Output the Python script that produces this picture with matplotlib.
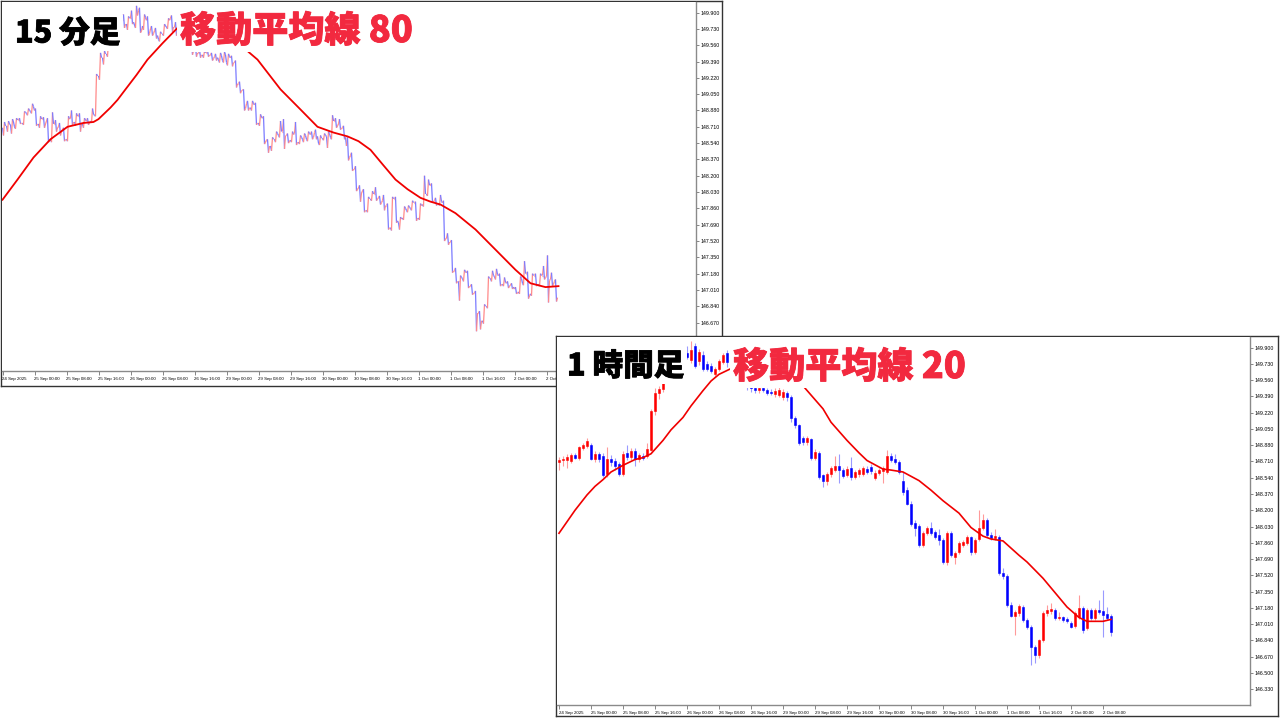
import matplotlib
matplotlib.use('Agg')
import matplotlib.pyplot as plt
import matplotlib.patheffects as pe
import numpy as np
from matplotlib.collections import LineCollection

# USD/JPY 1h candles, 24 Sep 16:00 -> 2 Oct 10:00
opens = [148.70, 148.72, 148.73, 148.71, 148.78, 148.75, 148.85, 148.87, 148.88, 148.74,
         148.79, 148.77, 148.58, 148.74, 148.71, 148.68, 148.58, 148.80, 148.76, 148.82,
         148.74, 148.77, 148.77, 148.83, 149.24, 149.43, 149.47, 149.58, 149.70, 149.74,
         149.82, 149.78, 149.84, 149.77, 149.92, 149.76, 149.82, 149.73, 149.71, 149.62,
         149.68, 149.75, 149.84, 149.75, 149.70, 149.64, 149.58, 149.55, 149.50, 149.48,
         149.46, 149.48, 149.46, 149.44, 149.41, 149.40, 149.38, 149.43, 149.38, 149.16,
         149.09, 148.95, 148.91, 148.94, 148.75, 148.80, 148.57, 148.51, 148.58, 148.62,
         148.66, 148.62, 148.57, 148.64, 148.55, 148.58, 148.58, 148.63, 148.65, 148.54,
         148.59, 148.61, 148.60, 148.77, 148.74, 148.70, 148.51, 148.41, 148.27, 148.07,
         148.04, 147.84, 147.96, 148.01, 147.97, 147.94, 147.89, 147.66, 147.96, 147.71,
         147.76, 147.84, 147.86, 147.92, 147.76, 147.90, 148.01, 148.10, 147.94, 147.91,
         147.92, 147.55, 147.51, 147.21, 147.10, 147.13, 147.19, 147.05, 146.98, 146.77,
         146.69, 146.84, 147.13, 147.15, 147.16, 147.07, 147.08, 147.06, 147.02, 146.99,
         147.08, 147.18, 146.97, 147.16, 147.07, 147.16, 147.15, 147.12, 147.10]
highs = [148.76, 148.77, 148.79, 148.80, 148.80, 148.87, 148.90, 148.95, 148.90, 148.82,
         148.81, 148.80, 148.86, 148.78, 148.75, 148.70, 148.82, 148.88, 148.85, 148.85,
         148.80, 148.80, 148.90, 149.26, 149.48, 149.50, 149.60, 149.72, 149.78, 149.85,
         149.88, 149.86, 149.92, 149.97, 149.95, 149.88, 149.86, 149.76, 149.74, 149.70,
         149.78, 149.84, 149.87, 149.80, 149.74, 149.68, 149.62, 149.58, 149.54, 149.52,
         149.50, 149.51, 149.48, 149.47, 149.48, 149.49, 149.47, 149.45, 149.40, 149.18,
         149.10, 148.98, 148.98, 148.96, 148.84, 148.82, 148.58, 148.60, 148.66, 148.77,
         148.79, 148.64, 148.66, 148.76, 148.62, 148.64, 148.66, 148.66, 148.68, 148.62,
         148.64, 148.66, 148.83, 148.80, 148.79, 148.72, 148.60, 148.44, 148.30, 148.10,
         148.06, 147.98, 148.04, 148.08, 147.99, 148.00, 147.91, 147.98, 147.98, 147.77,
         147.88, 147.89, 147.94, 147.93, 147.91, 148.20, 148.16, 148.12, 147.97, 148.00,
         147.94, 147.60, 147.53, 147.24, 147.16, 147.22, 147.21, 147.07, 147.00, 146.79,
         146.86, 147.15, 147.21, 147.23, 147.18, 147.14, 147.10, 147.08, 147.04, 147.15,
         147.31, 147.20, 147.18, 147.18, 147.18, 147.26, 147.37, 147.19, 147.12]
lows = [148.62, 148.66, 148.64, 148.69, 148.74, 148.73, 148.83, 148.85, 148.72, 148.70,
        148.70, 148.55, 148.55, 148.66, 148.62, 148.56, 148.56, 148.72, 148.72, 148.66,
        148.70, 148.73, 148.75, 148.82, 149.20, 149.36, 149.44, 149.55, 149.64, 149.70,
        149.74, 149.72, 149.78, 149.74, 149.69, 149.72, 149.66, 149.66, 149.63, 149.60,
        149.66, 149.73, 149.70, 149.66, 149.60, 149.54, 149.50, 149.46, 149.44, 149.43,
        149.43, 149.44, 149.40, 149.40, 149.38, 149.38, 149.35, 149.34, 149.12, 149.06,
        148.88, 148.88, 148.88, 148.73, 148.72, 148.53, 148.44, 148.46, 148.55, 148.60,
        148.48, 148.54, 148.55, 148.52, 148.53, 148.55, 148.56, 148.58, 148.58, 148.52,
        148.57, 148.49, 148.58, 148.70, 148.68, 148.58, 148.36, 148.25, 148.04, 147.93,
        147.82, 147.82, 147.94, 147.94, 147.90, 147.84, 147.64, 147.63, 147.71, 147.64,
        147.74, 147.82, 147.84, 147.73, 147.74, 147.88, 147.99, 147.92, 147.89, 147.89,
        147.52, 147.48, 147.19, 147.08, 146.90, 147.10, 147.03, 146.96, 146.58, 146.60,
        146.66, 146.82, 147.10, 147.12, 147.05, 147.05, 147.03, 147.02, 146.97, 146.97,
        147.06, 146.92, 146.95, 147.05, 147.05, 147.12, 146.88, 147.05, 146.89]
closes = [148.72, 148.74, 148.76, 148.78, 148.75, 148.86, 148.88, 148.92, 148.74, 148.79,
          148.74, 148.57, 148.74, 148.70, 148.66, 148.58, 148.79, 148.76, 148.82, 148.74,
          148.78, 148.75, 148.84, 149.24, 149.43, 149.47, 149.58, 149.70, 149.74, 149.82,
          149.78, 149.84, 149.80, 149.87, 149.71, 149.85, 149.68, 149.68, 149.66, 149.68,
          149.76, 149.82, 149.75, 149.70, 149.64, 149.58, 149.55, 149.50, 149.48, 149.46,
          149.48, 149.46, 149.42, 149.43, 149.45, 149.46, 149.44, 149.38, 149.16, 149.09,
          148.90, 148.91, 148.95, 148.75, 148.81, 148.55, 148.51, 148.58, 148.64, 148.66,
          148.62, 148.56, 148.63, 148.55, 148.60, 148.62, 148.64, 148.60, 148.61, 148.59,
          148.62, 148.64, 148.77, 148.72, 148.70, 148.60, 148.39, 148.27, 148.06, 148.02,
          147.84, 147.96, 148.01, 147.96, 147.92, 147.89, 147.66, 147.96, 147.73, 147.75,
          147.86, 147.87, 147.92, 147.76, 147.89, 148.01, 148.10, 147.94, 147.91, 147.93,
          147.54, 147.51, 147.21, 147.10, 147.14, 147.20, 147.05, 146.98, 146.77, 146.69,
          146.84, 147.13, 147.16, 147.17, 147.07, 147.09, 147.05, 147.04, 146.98, 147.13,
          147.18, 146.95, 147.16, 147.07, 147.16, 147.14, 147.11, 147.07, 146.93]

# moving averages as drawn by the terminal
ma20_idx = [0, 2, 4, 7, 9, 11, 13, 16, 19, 21, 23, 26, 28, 31, 33, 36, 38, 40, 44, 48,
            52, 55, 59, 61, 66, 68, 72, 75, 77, 81, 83, 86, 90, 93, 96, 100, 103, 106,
            108, 111, 115, 117, 121, 124, 127, 130, 132, 134, 136, 138]
ma20_val = [147.96, 148.08, 148.20, 148.36, 148.45, 148.52, 148.60, 148.67, 148.73, 148.75,
            148.79, 148.93, 149.04, 149.17, 149.29, 149.45, 149.55, 149.62, 149.70, 149.74,
            149.73, 149.69, 149.59, 149.50, 149.26, 149.12, 148.93, 148.80, 148.72, 148.63,
            148.62, 148.60, 148.51, 148.41, 148.30, 148.17, 148.02, 147.93, 147.90, 147.88,
            147.73, 147.66, 147.49, 147.34, 147.19, 147.08, 147.04, 147.04, 147.04, 147.06]
ma80_bar = [0, 15, 31, 48, 65, 81, 86, 91, 96, 101, 108, 115, 123, 134, 145, 160, 175,
            200, 224, 246, 255, 278, 298, 315, 323, 331, 338, 345, 356, 368, 380, 393,
            405, 418, 428, 438, 453, 473, 493, 513, 528, 543, 556]
ma80_val = [147.95, 148.16, 148.39, 148.58, 148.71, 148.75, 148.755, 148.76, 148.79, 148.84,
            148.91, 148.99, 149.10, 149.25, 149.41, 149.58, 149.74, 149.80, 149.72, 149.49,
            149.41, 149.10, 148.89, 148.71, 148.68, 148.65, 148.63, 148.61, 148.56, 148.47,
            148.32, 148.16, 148.06, 147.97, 147.93, 147.90, 147.81, 147.64, 147.43, 147.22,
            147.08, 147.04, 147.05]

price_ticks = [149.900, 149.730, 149.560, 149.390, 149.220, 149.050, 148.880, 148.710,
               148.540, 148.370, 148.200, 148.030, 147.860, 147.690, 147.520, 147.350,
               147.180, 147.010, 146.840, 146.670, 146.500, 146.330]
label_hours = [0, 8, 16, 24, 32, 40, 48, 56, 64, 72, 80, 88, 96, 104, 112, 120, 128, 136]
time_labels = ['24 Sep 2025', '25 Sep 00:00', '25 Sep 08:00', '25 Sep 16:00', '26 Sep 00:00',
               '26 Sep 08:00', '26 Sep 16:00', '29 Sep 00:00', '29 Sep 08:00', '29 Sep 16:00',
               '30 Sep 00:00', '30 Sep 08:00', '30 Sep 16:00', '1 Oct 00:00', '1 Oct 08:00',
               '1 Oct 16:00', '2 Oct 00:00', '2 Oct 08:00']

W, H = 1280, 720
YLIM = (146.166, 150.01)
fig = plt.figure(figsize=(12.8, 7.2), dpi=100)
fig.patch.set_facecolor('white')


def px_axes(x0, y0, x1, y1):
    return fig.add_axes([x0 / W, 1 - y1 / H, (x1 - x0) / W, (y1 - y0) / H])


def frame(x0, y0, x1, y1):
    f = px_axes(x0, y0, x1, y1)
    f.set_xticks([])
    f.set_yticks([])
    f.set_facecolor('white')
    for s in f.spines.values():
        s.set_color('#333333')
        s.set_linewidth(1.0)
    return f


def price_axis(ax, xpos, labels):
    ax.set_ylim(*YLIM)
    ax.yaxis.tick_right()
    ax.set_yticks(price_ticks)
    ax.set_yticklabels(['%.3f' % p for p in price_ticks], fontsize=3.8,
                       family='Liberation Sans')
    ax.tick_params(axis='y', direction='out', length=2, pad=1.2, width=0.5, color='#555555')
    ax.set_xticks(xpos)
    ax.set_xticklabels(labels, fontsize=3.2, ha='left', family='Liberation Sans')
    ax.tick_params(axis='x', direction='out', length=3, pad=1.5, width=0.5, color='#555555')
    for side in ['left', 'top']:
        ax.spines[side].set_visible(False)
    for side in ['right', 'bottom']:
        ax.spines[side].set_color('#8a8a8a')
        ax.spines[side].set_linewidth(1.0)
    ax.set_facecolor('white')


# ---------- upper panel: 15 minute chart ----------
frame(1, 1, 722, 386)
ax1 = px_axes(2, 2, 696, 371)
price_axis(ax1, [4 * h for h in label_hours], time_labels)
ax1.set_xlim(-0.5, 693.5)

xs, ys = [], []
for i in range(len(opens)):
    o, h, l, c = opens[i], highs[i], lows[i], closes[i]
    path = [o, l, h, c] if c >= o else [o, h, l, c]
    for k, v in enumerate(path):
        xs.append(4 * i + k)
        ys.append(v)
pts = np.column_stack([xs, ys])
segs = np.stack([pts[:-1], pts[1:]], axis=1)
cols = ['#ff8a8a' if b[1] >= a[1] else '#7b7bff' for a, b in zip(pts[:-1], pts[1:])]
ax1.add_collection(LineCollection(segs, colors=cols, linewidths=0.9))
ax1.plot(ma80_bar, ma80_val, color='#f00000', lw=1.3, zorder=5)

# ---------- lower panel: 1 hour chart ----------
frame(556, 336, 1278, 716)
ax2 = px_axes(557, 337, 1250, 705)
price_axis(ax2, label_hours, time_labels)
ax2.set_xlim(-0.5, 172.75)

idx = np.arange(len(opens))
o = np.array(opens)
c = np.array(closes)
up = c >= o
ax2.vlines(idx[up], np.array(lows)[up], np.array(highs)[up], colors='#ff9a9a', lw=0.8)
ax2.vlines(idx[~up], np.array(lows)[~up], np.array(highs)[~up], colors='#9a9aff', lw=0.8)
ax2.bar(idx[up], (c - o)[up], bottom=o[up], width=0.65, color='#ff0000',
        edgecolor='#ff0000', lw=0.4, zorder=3)
ax2.bar(idx[~up], (c - o)[~up], bottom=o[~up], width=0.65, color='#0000ff',
        edgecolor='#0000ff', lw=0.4, zorder=3)
ax2.plot(ma20_idx, ma20_val, color='#f00000', lw=1.2, zorder=5)

# ---------- captions ----------
cjk = ['Noto Sans CJK JP', 'DejaVu Sans']
box = dict(facecolor='white', edgecolor='none', pad=2)
heavy_k = [pe.withStroke(linewidth=0.6, foreground='black')]
heavy_r = [pe.withStroke(linewidth=0.6, foreground='#f2293f')]
fig.text(15 / W, 1 - 33 / H, '15 分足', fontsize=22, fontweight='heavy', family=cjk,
         color='black', ha='left', va='center', bbox=box, path_effects=heavy_k)
fig.text(180 / W, 1 - 31 / H, '移動平均線 80', fontsize=26, fontweight='heavy', family=cjk,
         color='#f2293f', ha='left', va='center', bbox=box, path_effects=heavy_r)
fig.text(567 / W, 1 - 366 / H, '1 時間足', fontsize=22, fontweight='heavy', family=cjk,
         color='black', ha='left', va='center', bbox=box, path_effects=heavy_k)
fig.text(733 / W, 1 - 367 / H, '移動平均線 20', fontsize=26, fontweight='heavy', family=cjk,
         color='#f2293f', ha='left', va='center', bbox=box, path_effects=heavy_r)

fig.savefig('out.png', dpi=100)
